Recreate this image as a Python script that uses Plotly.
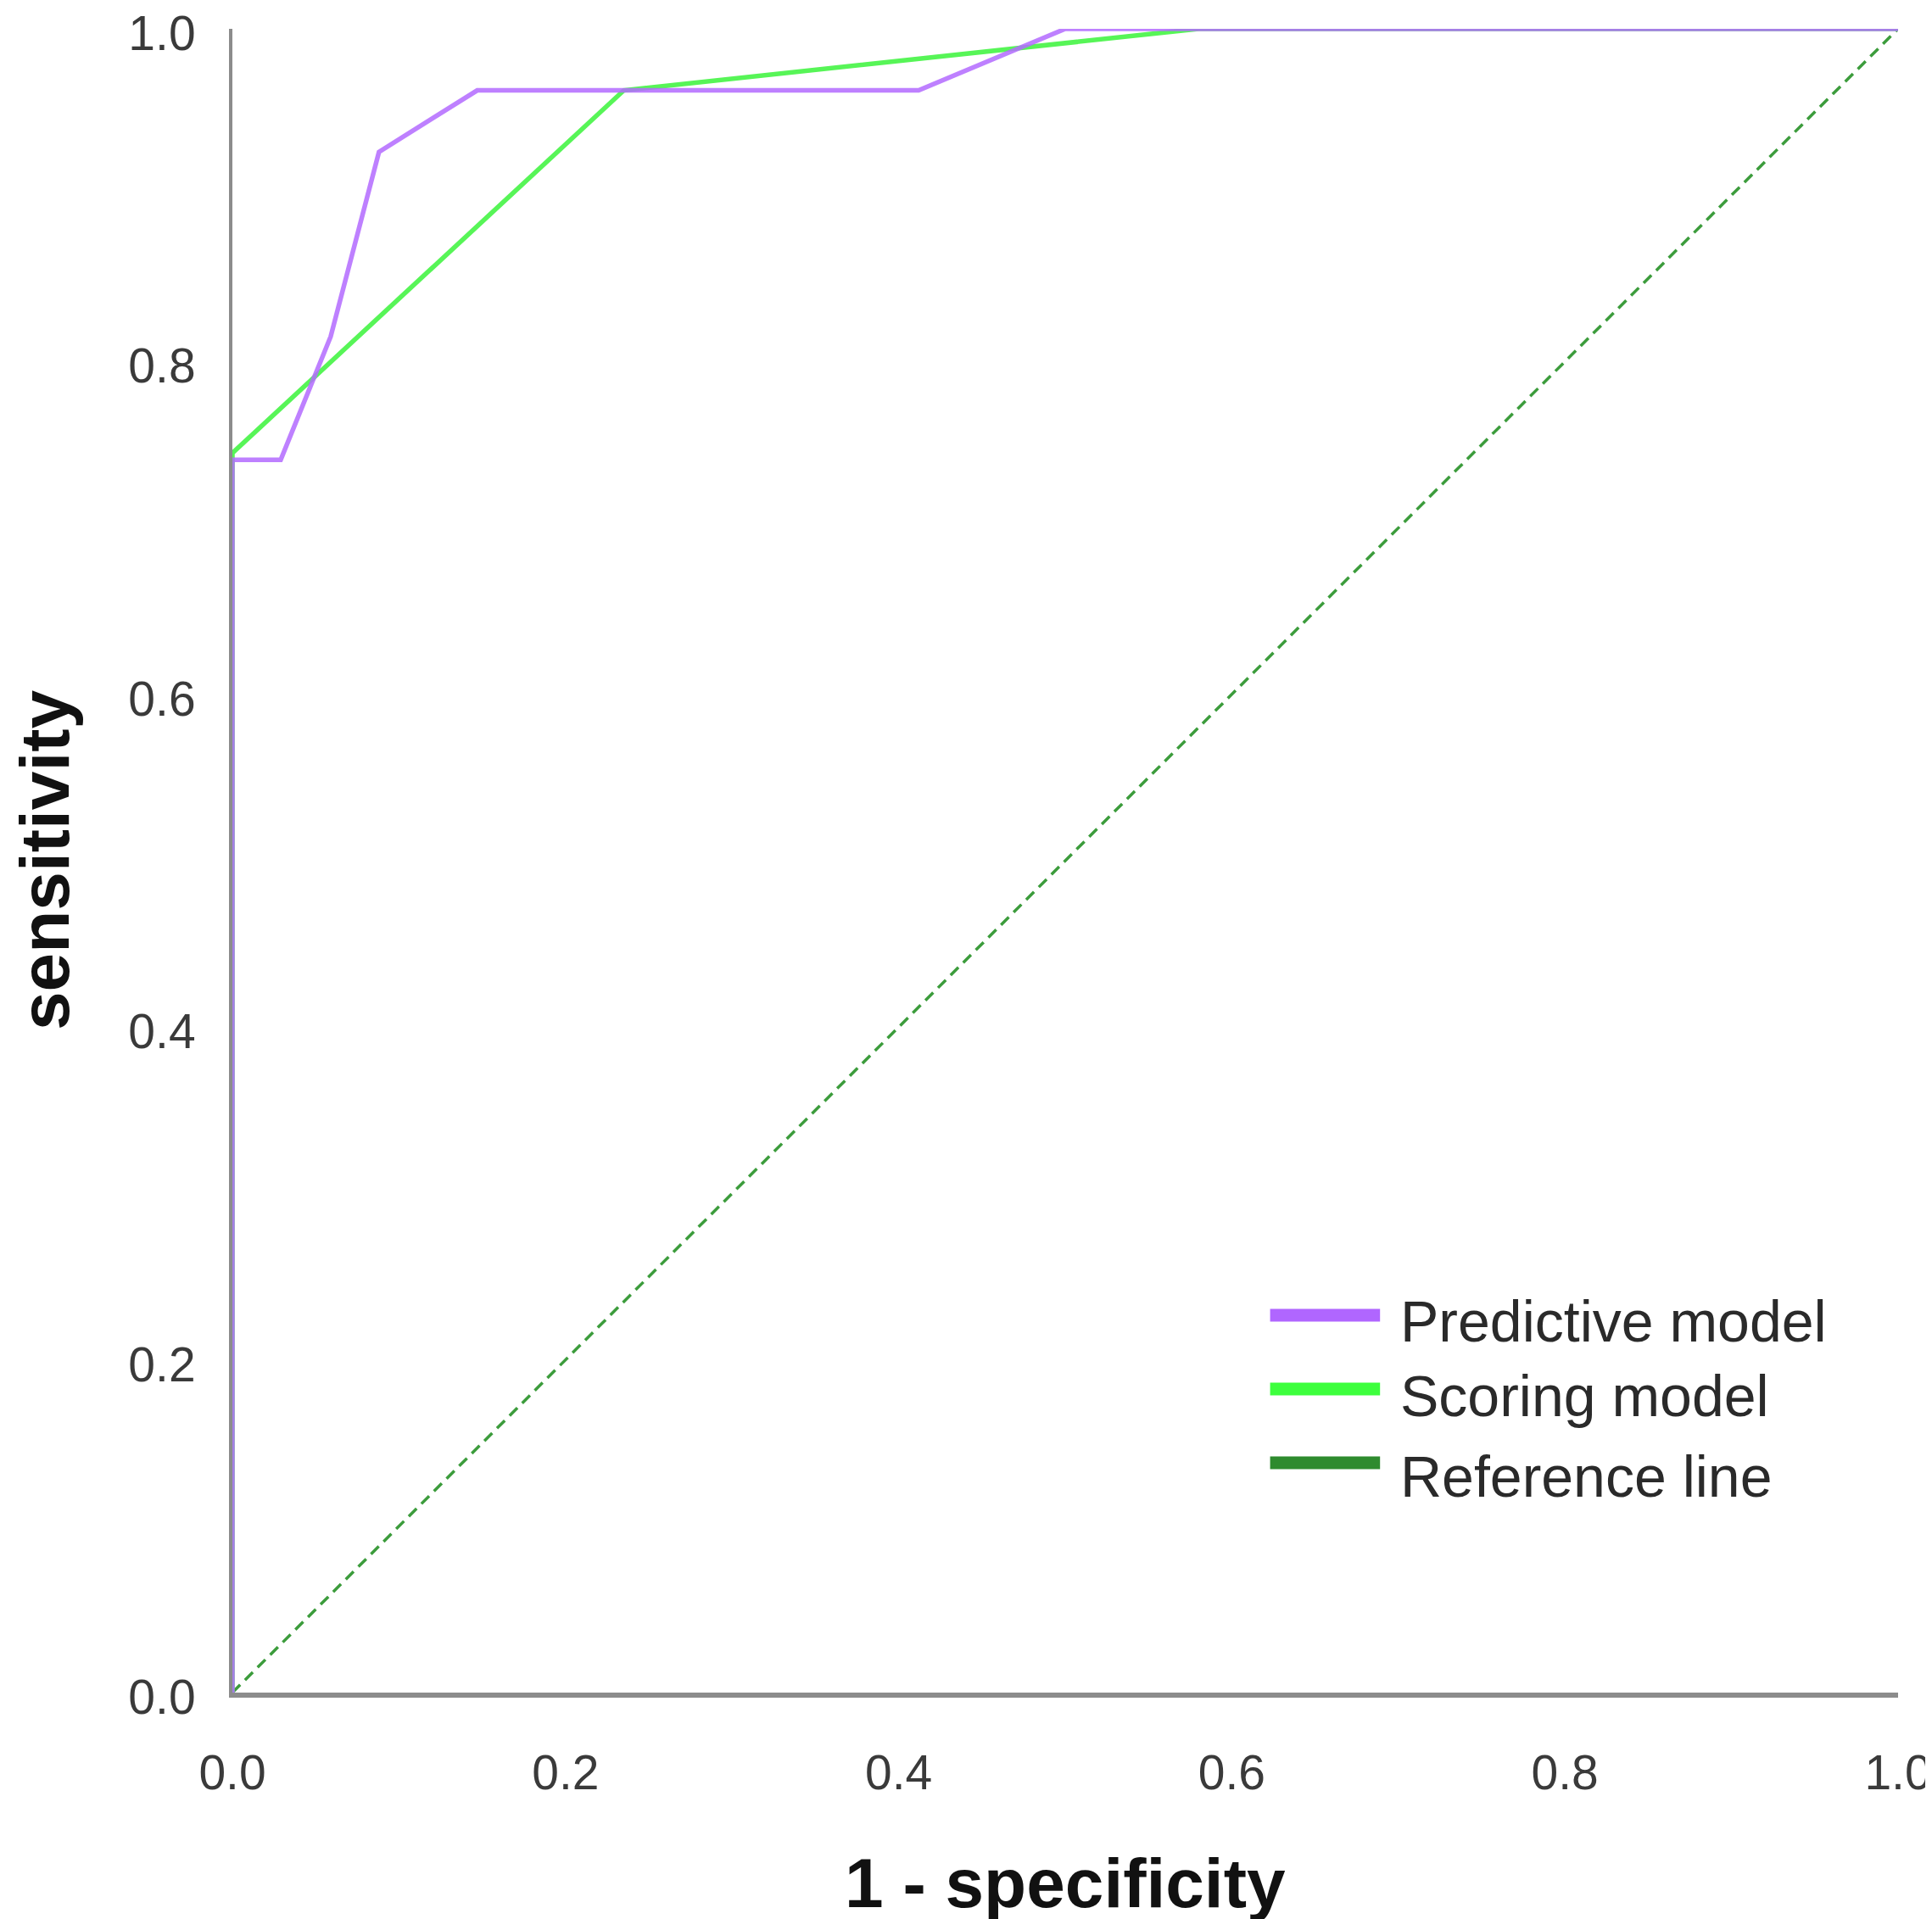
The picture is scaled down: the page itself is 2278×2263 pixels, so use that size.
import plotly.graph_objects as go

# ROC points
pred_fpr = [0.0, 0.0, 0.029, 0.059, 0.088, 0.147, 0.412, 0.5, 1.0]
pred_tpr = [0.0, 0.741, 0.741, 0.815, 0.926, 0.963, 0.963, 1.0, 1.0]

score_fpr = [0.0, 0.0, 0.235, 0.58, 1.0]
score_tpr = [0.0, 0.745, 0.963, 1.0, 1.0]

ref_x = [0.0, 1.0]
ref_y = [0.0, 1.0]

tick_vals = [0.0, 0.2, 0.4, 0.6, 0.8, 1.0]
tick_text = ["0.0", "0.2", "0.4", "0.6", "0.8", "1.0"]

legend_names = ["Predictive model", "Scoring model", "Reference line"]
legend_colors = ["#b066ff", "#3dff3d", "#2e8b2e"]

PURPLE = "#b36bff"
GREEN = "#45f545"
REF_GREEN = "#3c9c3c"
FONT = "Liberation Sans, Arial, sans-serif"

fig = go.Figure()
fig.add_trace(go.Scatter(x=ref_x, y=ref_y, mode="lines", cliponaxis=False,
                         line=dict(color=REF_GREEN, width=3.5, dash="13px,8px"),
                         name="Reference line"))
fig.add_trace(go.Scatter(x=score_fpr, y=score_tpr, mode="lines", cliponaxis=False,
                         line=dict(color=GREEN, width=5.5), opacity=0.9,
                         name="Scoring model"))
fig.add_trace(go.Scatter(x=pred_fpr, y=pred_tpr, mode="lines", cliponaxis=False,
                         line=dict(color=PURPLE, width=5.5), opacity=0.85,
                         name="Predictive model"))

axis_common = dict(range=[0, 1], showgrid=False, zeroline=False, showline=True,
                   linecolor="#8c8c8c", ticks="", layer="below traces",
                   tickvals=tick_vals, ticktext=tick_text,
                   ticklabeloverflow="allow", automargin=False,
                   tickfont=dict(family=FONT, size=57, color="#3a3a3a"))

fig.update_xaxes(**axis_common, linewidth=6, ticklabelstandoff=40)
fig.update_yaxes(**axis_common, linewidth=4, ticklabelstandoff=28, ticklabelshift=5)

# legend drawn by hand so the long thick swatches match the original
leg_x0, leg_x1, leg_text_x = 0.623, 0.689, 0.700
leg_line_y = [0.2268, 0.1825, 0.1381]
leg_text_y = [0.2232, 0.1784, 0.1300]
shapes = []
annotations = []
for name, col, ly, ty in zip(legend_names, legend_colors, leg_line_y, leg_text_y):
    shapes.append(dict(type="line", xref="paper", yref="paper",
                       x0=leg_x0, x1=leg_x1, y0=ly, y1=ly,
                       line=dict(color=col, width=15)))
    annotations.append(dict(text=name, xref="paper", yref="paper",
                            x=leg_text_x, y=ty, xanchor="left", yanchor="middle",
                            showarrow=False,
                            font=dict(family=FONT, size=68, color="#2a2a2a")))

annotations.append(dict(text="<b>1 - specificity</b>", xref="paper", yref="paper",
                        x=0.5, y=0, yshift=-224, xanchor="center", yanchor="middle",
                        showarrow=False, font=dict(family=FONT, size=82, color="#111111")))
annotations.append(dict(text="<b>sensitivity</b>", xref="paper", yref="paper",
                        x=0, y=0.5, xshift=-222, xanchor="center", yanchor="middle",
                        textangle=-90, showarrow=False,
                        font=dict(family=FONT, size=82, color="#111111")))

fig.update_layout(width=2278, height=2263,
                  margin=dict(l=266, r=48, t=26, b=275, autoexpand=False),
                  plot_bgcolor="white", paper_bgcolor="white",
                  showlegend=False, shapes=shapes, annotations=annotations)

fig.write_html("out.html")
